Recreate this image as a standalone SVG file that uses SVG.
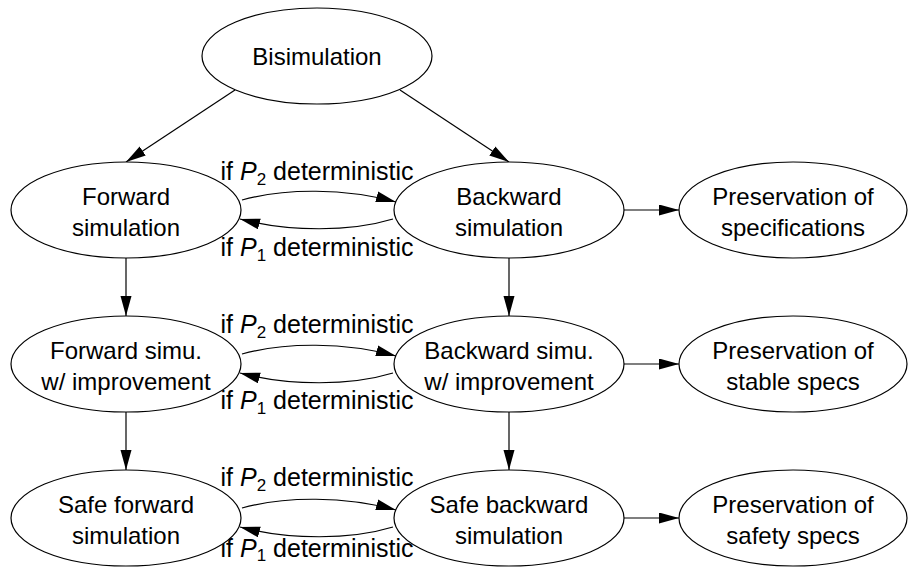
<svg xmlns="http://www.w3.org/2000/svg" width="914" height="567" viewBox="0 0 914 567">
<style>
  .node ellipse { fill: #fff; stroke: #000; stroke-width: 1.2; }
  .node text, .lbl { font-family: "Liberation Sans", Arial, sans-serif; font-size: 24px; fill: #000; text-anchor: middle; }
  .lbl { font-size: 25px; }
  .edges path { fill: none; stroke: #000; stroke-width: 1.2; marker-end: url(#arr); }
  .it { font-style: italic; }
  .sub { font-size: 17px; }
</style>
<defs>
  <marker id="arr" markerUnits="userSpaceOnUse" markerWidth="21" markerHeight="12" refX="20" refY="5.5" orient="auto">
    <path d="M0,0 L20,5.5 L0,11 z" fill="#000"/>
  </marker>
</defs>
<rect width="914" height="567" fill="#fff"/>
<g class="edges" id="edges">
  <path d="M235,90 L126,162"/>
  <path d="M400,90 L509,162"/>
  <path d="M126,258 L126,316"/>
  <path d="M126,412 L126,470"/>
  <path d="M509,258 L509,316"/>
  <path d="M509,412 L509,470"/>
  <path d="M624,210 L679,210"/>
  <path d="M624,364 L679,364"/>
  <path d="M624,518 L679,518"/>
  <path d="M242,200 C285,188 345,188 396,202"/>
  <path d="M393,219 C350,232 290,232 240,219"/>
  <path d="M242,354 C285,342 345,342 396,356"/>
  <path d="M393,373 C350,386 290,386 240,373"/>
  <path d="M242,508 C285,496 345,496 396,510"/>
  <path d="M393,527 C350,540 290,540 240,527"/>
</g>
<g id="labels">
  <text class="lbl" x="317" y="180">if <tspan class="it">P</tspan><tspan class="sub" dy="5">2</tspan><tspan dy="-5"> deterministic</tspan></text>
  <text class="lbl" x="317" y="256">if <tspan class="it">P</tspan><tspan class="sub" dy="5">1</tspan><tspan dy="-5"> deterministic</tspan></text>
  <text class="lbl" x="317" y="333">if <tspan class="it">P</tspan><tspan class="sub" dy="5">2</tspan><tspan dy="-5"> deterministic</tspan></text>
  <text class="lbl" x="317" y="409">if <tspan class="it">P</tspan><tspan class="sub" dy="5">1</tspan><tspan dy="-5"> deterministic</tspan></text>
  <text class="lbl" x="317" y="486">if <tspan class="it">P</tspan><tspan class="sub" dy="5">2</tspan><tspan dy="-5"> deterministic</tspan></text>
  <text class="lbl" x="317" y="557">if <tspan class="it">P</tspan><tspan class="sub" dy="4">1</tspan><tspan dy="-4"> deterministic</tspan></text>
</g>
<g class="node" id="bisim">
  <ellipse cx="317" cy="56" rx="115" ry="48"/>
  <text x="317" y="65">Bisimulation</text>
</g>
<g class="node" id="fwd">
  <ellipse cx="126" cy="210" rx="115" ry="48"/>
  <text x="126" y="205">Forward</text>
  <text x="126" y="236">simulation</text>
</g>
<g class="node" id="bwd">
  <ellipse cx="509" cy="210" rx="115" ry="48"/>
  <text x="509" y="205">Backward</text>
  <text x="509" y="236">simulation</text>
</g>
<g class="node" id="pres1">
  <ellipse cx="793" cy="210" rx="114" ry="48"/>
  <text x="793" y="205">Preservation of</text>
  <text x="793" y="236">specifications</text>
</g>
<g class="node" id="fwdimp">
  <ellipse cx="126" cy="364" rx="115" ry="48"/>
  <text x="126" y="359">Forward simu.</text>
  <text x="126" y="390">w/ improvement</text>
</g>
<g class="node" id="bwdimp">
  <ellipse cx="509" cy="364" rx="115" ry="48"/>
  <text x="509" y="359">Backward simu.</text>
  <text x="509" y="390">w/ improvement</text>
</g>
<g class="node" id="pres2">
  <ellipse cx="793" cy="364" rx="114" ry="48"/>
  <text x="793" y="359">Preservation of</text>
  <text x="793" y="390">stable specs</text>
</g>
<g class="node" id="safefwd">
  <ellipse cx="126" cy="518" rx="115" ry="48"/>
  <text x="126" y="513">Safe forward</text>
  <text x="126" y="544">simulation</text>
</g>
<g class="node" id="safebwd">
  <ellipse cx="509" cy="518" rx="115" ry="48"/>
  <text x="509" y="513">Safe backward</text>
  <text x="509" y="544">simulation</text>
</g>
<g class="node" id="pres3">
  <ellipse cx="793" cy="518" rx="114" ry="48"/>
  <text x="793" y="513">Preservation of</text>
  <text x="793" y="544">safety specs</text>
</g>
</svg>
